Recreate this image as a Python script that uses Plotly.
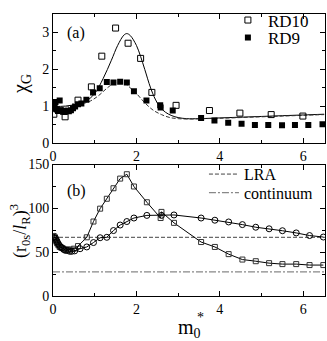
import plotly.graph_objects as go

# ── Panel (a): chi_G vs m0* ───────────────────────────────────────────────────
rd10_x = [0.02, 0.29, 0.6, 0.92, 1.17, 1.5, 1.8, 2.1, 2.37, 2.95, 3.75, 4.48, 5.23, 5.99]
rd10_y = [0.79, 0.72, 1.17, 1.53, 2.36, 3.12, 2.71, 2.3, 1.38, 1.03, 0.89, 0.82, 0.78, 0.74]

rd9_x = [0.0, 0.02, 0.04, 0.06, 0.09, 0.12, 0.16, 0.2, 0.24, 0.28, 0.33, 0.38,
         0.43, 0.48, 0.53, 0.6, 0.68, 0.8, 0.96, 1.12, 1.29, 1.45, 1.61, 1.77,
         1.94, 2.24, 2.57, 2.58, 2.87, 3.55, 3.87, 4.2, 4.52, 4.84, 5.16, 5.49,
         5.8, 6.12, 6.46]
rd9_y = [1.0, 0.95, 1.08, 1.12, 0.92, 0.88, 1.16, 0.9, 0.86, 0.85, 0.88, 0.87,
         0.9, 0.95, 1.0, 1.06, 1.08, 1.18, 1.38, 1.49, 1.66, 1.65, 1.67, 1.65,
         1.41, 1.16, 1.03, 0.97, 0.89, 0.69, 0.62, 0.56, 0.53, 0.5, 0.5, 0.49,
         0.5, 0.5, 0.52]

fit10_x = [0, 0.3, 0.6, 0.8, 1.0, 1.2, 1.4, 1.55, 1.7, 1.77, 1.85, 2.0, 2.1,
           2.2, 2.34, 2.45, 2.56, 2.7, 2.85, 3.0, 3.2, 3.5, 4.0, 4.5, 5.0, 5.5,
           6.0, 6.5]
fit10_y = [1.0, 1.01, 1.07, 1.15, 1.35, 1.75, 2.25, 2.65, 2.93, 2.97, 2.92,
           2.65, 2.35, 2.0, 1.5, 1.2, 0.99, 0.84, 0.75, 0.7, 0.67, 0.67, 0.69,
           0.71, 0.73, 0.75, 0.77, 0.79]

fit9_x = [0, 0.3, 0.6, 0.9, 1.1, 1.3, 1.45, 1.6, 1.75, 1.9, 2.0, 2.2, 2.4, 2.6,
          2.8, 3.0, 3.3, 3.6, 4.0, 4.5, 5.0, 5.5, 6.0, 6.5]
fit9_y = [0.95, 0.98, 1.04, 1.15, 1.3, 1.5, 1.62, 1.65, 1.6, 1.45, 1.35, 1.1,
          0.9, 0.78, 0.7, 0.67, 0.66, 0.67, 0.68, 0.7, 0.72, 0.74, 0.76, 0.78]

# ── Panel (b): (r0s/lR)^3 vs m0* ─────────────────────────────────────────────
sq_x = [0.02, 0.05, 0.08, 0.1, 0.13, 0.16, 0.2, 0.25, 0.3, 0.36, 0.42, 0.5,
        0.6, 0.81, 0.97, 1.13, 1.29, 1.45, 1.61, 1.77, 1.94, 2.25, 2.58, 2.6,
        2.9, 3.55, 3.88, 4.21, 4.54, 4.86, 5.18, 5.5, 5.83, 6.15, 6.48]
sq_y = [66, 64, 62, 60, 58, 56, 55, 54, 53, 53, 53, 54, 57, 67, 85, 99.7, 111,
        123, 134, 139, 125, 107, 89, 96, 83.5, 61.6, 56, 47.8, 41.6, 39.7, 37.5,
        36.4, 36.4, 35.3, 35.3]

circ_x = [0.02, 0.04, 0.06, 0.08, 0.1, 0.12, 0.15, 0.18, 0.22, 0.26, 0.3, 0.35,
          0.4, 0.45, 0.52, 0.65, 0.81, 0.97, 1.13, 1.29, 1.45, 1.61, 1.77, 1.94,
          2.25, 2.6, 2.9, 3.55, 3.88, 4.21, 4.54, 4.86, 5.18, 5.5, 5.83, 6.15,
          6.48]
circ_y = [67, 68, 66, 64, 62, 60, 58, 56, 55, 53, 52, 52, 51, 51, 51.5, 54, 56,
          61, 66.5, 67, 74.7, 81, 85, 89, 92, 92, 92.5, 89, 86.5, 84.5, 81.5,
          78.5, 76.7, 74.5, 72, 69, 67.3]

lra_x = [0, 6.52]
lra_y = [67, 67]
cont_x = [0, 6.52]
cont_y = [27.5, 27.5]

FONT = "Liberation Serif"

fig = go.Figure()

fig.add_trace(go.Scatter(x=fit10_x, y=fit10_y, mode="lines", line=dict(color="black", width=1, shape="spline"),
                         showlegend=False, xaxis="x", yaxis="y"))
fig.add_trace(go.Scatter(x=fit9_x, y=fit9_y, mode="lines", line=dict(color="#333", width=1, dash="4px,2px", shape="spline"),
                         showlegend=False, xaxis="x", yaxis="y"))
fig.add_trace(go.Scatter(x=rd10_x, y=rd10_y, mode="markers", name="RD10",
                         marker=dict(symbol="square-open", size=6, color="black", line=dict(width=1)),
                         legend="legend", xaxis="x", yaxis="y"))
fig.add_trace(go.Scatter(x=rd9_x, y=rd9_y, mode="markers", name="RD9",
                         marker=dict(symbol="square", size=6, color="black"),
                         legend="legend2", xaxis="x", yaxis="y"))

fig.add_trace(go.Scatter(x=lra_x, y=lra_y, mode="lines", name="LRA",
                         line=dict(color="#444", width=1, dash="4px,2px"),
                         legend="legend3", xaxis="x2", yaxis="y2"))
fig.add_trace(go.Scatter(x=cont_x, y=cont_y, mode="lines", name="continuum",
                         line=dict(color="#888", width=1.2, dash="7px,2px,2px,2px"),
                         legend="legend4", xaxis="x2", yaxis="y2"))
fig.add_trace(go.Scatter(x=sq_x, y=sq_y, mode="lines+markers", showlegend=False,
                         line=dict(color="black", width=1),
                         marker=dict(symbol="square-open", size=5, color="#333", line=dict(width=1)),
                         xaxis="x2", yaxis="y2"))
fig.add_trace(go.Scatter(x=circ_x, y=circ_y, mode="lines+markers", showlegend=False,
                         line=dict(color="black", width=1),
                         marker=dict(symbol="circle-open", size=6, color="black", line=dict(width=1)),
                         xaxis="x2", yaxis="y2"))

axis_common = dict(
    showline=True, mirror="allticks", linecolor="black", linewidth=1,
    ticks="inside", ticklen=5, tickcolor="black", showgrid=False, zeroline=False,
    tickfont=dict(family=FONT, size=14, color="black"),
)


def legend_at(x, y, size):
    return dict(x=x, y=y, xanchor="left", yanchor="middle", bgcolor="rgba(0,0,0,0)",
                font=dict(family=FONT, size=size), itemwidth=30, borderwidth=0)


fig.update_layout(
    width=327, height=341,
    margin=dict(l=53, r=2, t=2, b=45),
    plot_bgcolor="white", paper_bgcolor="white",
    font=dict(family=FONT, color="black"),
    xaxis=dict(domain=[0, 1], range=[0, 6.52], anchor="y", tickvals=[0, 2, 4, 6],
               minor=dict(dtick=1, ticks="inside", ticklen=3, tickcolor="black"), **axis_common),
    yaxis=dict(domain=[0.541, 1], range=[0, 3.5], anchor="x", tickvals=[0, 1, 2, 3],
               minor=dict(dtick=0.5, ticks="inside", ticklen=3, tickcolor="black"), **axis_common),
    xaxis2=dict(domain=[0, 1], range=[0, 6.52], anchor="y2", tickvals=[0, 2, 4, 6],
                minor=dict(dtick=1, ticks="inside", ticklen=3, tickcolor="black"), **axis_common),
    yaxis2=dict(domain=[0, 0.466], range=[0, 150], anchor="x2", tickvals=[0, 50, 100, 150],
                minor=dict(dtick=25, ticks="inside", ticklen=3, tickcolor="black"), **axis_common),
    legend=legend_at(0.643, 0.977, 17),
    legend2=legend_at(0.643, 0.915, 17),
    legend3=legend_at(0.555, 0.432, 16),
    legend4=legend_at(0.555, 0.366, 16),
    annotations=[
        dict(text="(a)", x=0.044, y=0.973, xref="paper", yref="paper", showarrow=False,
             xanchor="left", yanchor="top", font=dict(size=16)),
        dict(text="(b)", x=0.044, y=0.41, xref="paper", yref="paper", showarrow=False,
             xanchor="left", yanchor="top", font=dict(size=16)),
        dict(text="χ<sub>G</sub>", x=-0.114, y=0.752, xref="paper", yref="paper", showarrow=False,
             xanchor="center", yanchor="middle", textangle=-90, font=dict(size=20)),
        dict(text="(r<sub>0s</sub>/<i>l</i><sub>R</sub>)<sup>3</sup>", x=-0.121, y=0.231,
             xref="paper", yref="paper", showarrow=False, xanchor="center", yanchor="middle",
             textangle=-90, font=dict(size=18)),
        dict(text="m<sub>0</sub>", x=0.5, y=-0.116, xref="paper", yref="paper", showarrow=False,
             xanchor="center", yanchor="middle", font=dict(size=20)),
        dict(text="*", x=0.544, y=-0.075, xref="paper", yref="paper", showarrow=False,
             xanchor="center", yanchor="middle", font=dict(size=14)),
    ],
)

# page body margin would shift the fixed-size plot; remove it
fig.write_html("out.html", config={"displayModeBar": False},
               post_script="document.body.style.margin='0';")
